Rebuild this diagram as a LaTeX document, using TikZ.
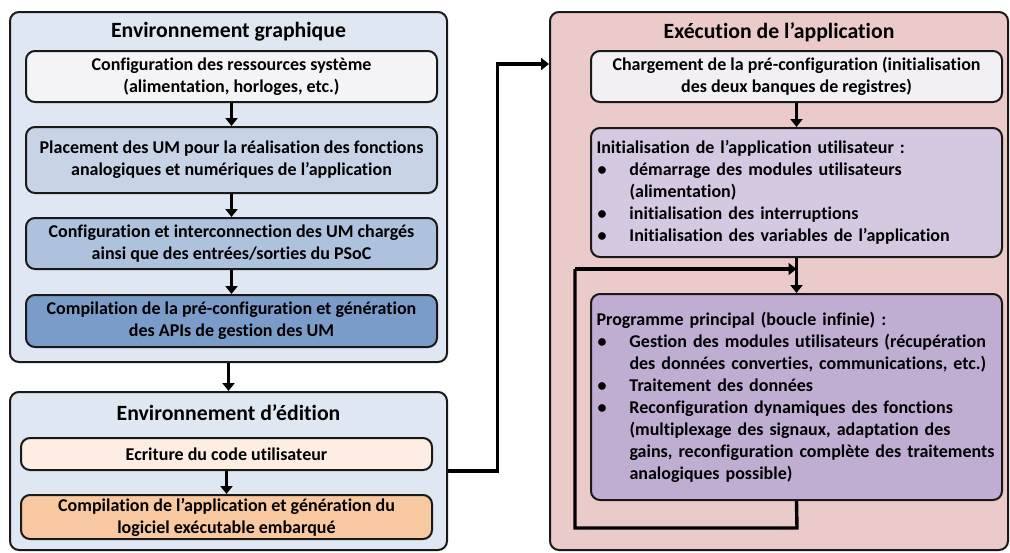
\documentclass[tikz,border=0pt]{standalone}
\usepackage{fontspec}
\setmainfont{Carlito}[BoldFont={* Bold}, Ligatures=NoCommon]
\usetikzlibrary{arrows.meta}
\definecolor{envblue}{HTML}{DFE7F3}
\definecolor{cA}{HTML}{F4F4F6}
\definecolor{cB}{HTML}{C7D4E5}
\definecolor{cC}{HTML}{ADC2DD}
\definecolor{cD}{HTML}{7B9CC8}
\definecolor{cE}{HTML}{FDEDE2}
\definecolor{cF}{HTML}{F8C8A0}
\definecolor{envpink}{HTML}{EBCBC9}
\definecolor{cG}{HTML}{F2F0F5}
\definecolor{cH}{HTML}{D4C9E0}
\definecolor{cI}{HTML}{BFAED2}
\tikzset{
  outer/.style={draw=black!90, line width=2pt, rounded corners=9pt},
  inner/.style={draw=black!90, line width=2pt, rounded corners=9pt, align=center,
    font=\bfseries\fontsize{18}{22}\selectfont, inner sep=0pt},
  ttl/.style={font=\bfseries\fontsize{21.75}{26}\selectfont, inner sep=0pt},
  listbox/.style={inner, align=left, text width=400pt},
  arr/.style={line width=3.4pt, -{Triangle[length=8pt,width=12pt]}},
  wire/.style={line width=3.4pt}
}
\newcommand{\bul}{\makebox[33pt][l]{\hspace{1pt}\textbullet}}
\newcommand{\cont}{\hspace*{33pt}}
\begin{document}
\begin{tikzpicture}[x=1pt,y=-1pt]
\useasboundingbox (0,0) rectangle (1010,552);
% left top environment
\node[outer, fill=envblue, minimum width=437pt, minimum height=350pt] (graph) at (228.5,187) {};
\node[ttl] (tgraph) at (228.5,32) {Environnement graphique};
\node[inner, fill=cA, minimum width=411pt, minimum height=51pt] (A) at (231.5,76.5)
  {Configuration des ressources système\\(alimentation, horloges, etc.)};
\node[inner, fill=cB, minimum width=411pt, minimum height=66pt] (B) at (231.5,160)
  {Placement des UM pour la réalisation des fonctions\\analogiques et numériques de l’application};
\node[inner, fill=cC, minimum width=411pt, minimum height=51pt] (C) at (231.5,243.5)
  {Configuration et interconnection des UM chargés\\ainsi que des entrées/sorties du PSoC};
\node[inner, fill=cD, minimum width=411pt, minimum height=52pt] (D) at (231.5,321)
  {Compilation de la pré-configuration et génération\\des APIs de gestion des UM};
\draw[arr] (A.south) -- (B.north);
\draw[arr] (B.south) -- (C.north);
\draw[arr] (C.south) -- (D.north);
% left bottom environment
\node[outer, fill=envblue, minimum width=437pt, minimum height=158pt] (edit) at (228.5,471) {};
\draw[arr] (graph.south) -- (edit.north);
\node[ttl] (tedit) at (228.5,413) {Environnement d’édition};
\node[inner, fill=cE, minimum width=411pt, minimum height=32pt] (E) at (226.5,454)
  {Ecriture du code utilisateur};
\node[inner, fill=cF, minimum width=411pt, minimum height=44pt] (F) at (226.5,517)
  {Compilation de l’application et génération du\\logiciel exécutable embarqué};
\draw[arr] (E.south) -- (F.north);
% right environment
\node[outer, fill=envpink, minimum width=458pt, minimum height=538pt] (exec) at (779,281) {};
\node[ttl] (texec) at (779,32) {Exécution de l’application};
\node[inner, fill=cG, minimum width=411pt, minimum height=51pt] (G) at (796.5,76.5)
  {Chargement de la pré-configuration (initialisation\\des deux banques de registres)};
\node[listbox, fill=cH, minimum width=411pt, minimum height=129pt] (H) at (796.5,192.5)
  {Initialisation de l’application utilisateur :\\
   \bul démarrage des modules utilisateurs\\
   \cont (alimentation)\\
   \bul initialisation des interruptions\\
   \bul Initialisation des variables de l’application};
\node[listbox, fill=cI, minimum width=411pt, minimum height=206pt] (I) at (796.5,397)
  {Programme principal (boucle infinie) :\\
   \bul Gestion des modules utilisateurs (récupération\\
   \cont des données converties, communications, etc.)\\
   \bul Traitement des données\\
   \bul Reconfiguration dynamiques des fonctions\\
   \cont (multiplexage des signaux, adaptation des\\
   \cont gains, reconfiguration complète des traitements\\
   \cont analogiques possible)};
\draw[arr] (G.south) -- (H.north);
\draw[arr] (H.south) -- (I.north);
\coordinate (loopL) at (575,269);
\coordinate (loopB) at (797,528);
\draw[wire, line join=miter] (I.south) -- (loopB) -| (loopL);
\draw[arr] (loopL) -- (loopL -| I.north);
% connector between environments
\coordinate (turn) at (497.5,64);
\draw[arr, line join=miter] (edit.east) -| (turn) -- (turn -| exec.west);
\end{tikzpicture}
\end{document}
